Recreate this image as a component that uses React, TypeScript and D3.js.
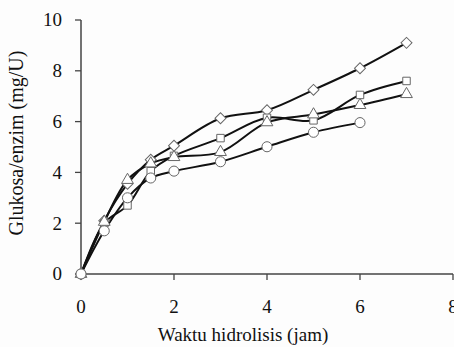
import * as d3 from "d3";

// hydrolysis time (jam)
const hours = [0, 0.5, 1, 1.5, 2, 3, 4, 5, 6, 7];

// glukosa/enzim (mg/U) per series
const diamondValues = [0, 2.1, 3.55, 4.5, 5.05, 6.13, 6.45, 7.25, 8.1, 9.1];
const squareValues = [0, 2.0, 2.7, 4.05, 4.65, 5.35, 6.15, 6.05, 7.05, 7.6];
const triangleValues = [0, 2.05, 3.7, 4.35, 4.6, 4.8, 5.97, 6.28, 6.65, 7.08];
const circleValues = [0, 1.7, 3.0, 3.78, 4.05, 4.42, 5.01, 5.58, 5.96];

const xTicks = [0, 2, 4, 6, 8];
const yTicks = [0, 2, 4, 6, 8, 10];

const xTitle = "Waktu hidrolisis (jam)";
const yTitle = "Glukosa/enzim (mg/U)";

const W = 454;
const H = 347;
const left = 81;
const right = 453;
const top = 20;
const bottom = 274;
const font = "Liberation Serif";
const axisColor = "#444";

const x = d3.scaleLinear().domain([0, 8]).range([left, right]);
const y = d3.scaleLinear().domain([0, 10]).range([bottom, top]);

const series = [
	{shape: "diamond", values: diamondValues},
	{shape: "square", values: squareValues},
	{shape: "triangle", values: triangleValues},
	{shape: "circle", values: circleValues},
];

const line = d3
	.line<[number, number]>()
	.x((d) => x(d[0]))
	.y((d) => y(d[1]))
	.curve(d3.curveCatmullRom.alpha(0.5));

const symbols: Record<string, d3.SymbolType> = {
	diamond: d3.symbolSquare,
	square: d3.symbolSquare,
	triangle: d3.symbolTriangle,
	circle: d3.symbolCircle,
};
const sizes: Record<string, number> = {diamond: 60, square: 56, triangle: 60, circle: 80};

const App = () => {
	const tickStyle = {fontFamily: font, fontSize: 19, fill: "#111"};
	return (
		<svg width={W} height={H} style={{position: "absolute", left: 0, top: 0}}>
			<rect width={W} height={H} fill="#fdfdfd" />

			{/* y axis */}
			<line x1={left} x2={left} y1={y(10)} y2={y(0)} stroke={axisColor} strokeWidth={1.5} />
			{yTicks.map((t) => (
				<g key={"y" + t}>
					<line x1={left - 6} x2={left} y1={y(t)} y2={y(t)} stroke={axisColor} strokeWidth={1.3} />
					<text x={left - 19} y={y(t)} dy="0.34em" textAnchor="end" style={tickStyle}>
						{t}
					</text>
				</g>
			))}

			{/* x axis */}
			<line x1={x(0)} x2={x(8)} y1={bottom} y2={bottom} stroke={axisColor} strokeWidth={1.5} />
			{xTicks.map((t) => (
				<g key={"x" + t}>
					<line x1={x(t)} x2={x(t)} y1={bottom} y2={bottom + 6} stroke={axisColor} strokeWidth={1.3} />
					<text x={x(t)} y={313} textAnchor="middle" style={tickStyle}>
						{t}
					</text>
				</g>
			))}

			{series.map((s) => (
				<path
					key={"l" + s.shape}
					d={line(s.values.map((v, i) => [hours[i], v] as [number, number])) || ""}
					fill="none"
					stroke="#111"
					strokeWidth={2}
				/>
			))}

			{series.map((s) => (
				<g key={"m" + s.shape}>
					{s.values.map((v, i) => (
						<path
							key={i}
							d={d3.symbol().type(symbols[s.shape]).size(sizes[s.shape])() || ""}
							transform={
								`translate(${x(hours[i])},${y(v)})` + (s.shape === "diamond" ? " rotate(45)" : "")
							}
							fill="#fff"
							stroke="#666"
							strokeWidth={1}
						/>
					))}
				</g>
			))}

			<text x={243} y={341} textAnchor="middle" style={{fontFamily: font, fontSize: 19, fill: "#111"}}>
				{xTitle}
			</text>
			<text
				transform="translate(23,143) rotate(-90)"
				textAnchor="middle"
				style={{fontFamily: font, fontSize: 20, fill: "#111"}}
			>
				{yTitle}
			</text>
		</svg>
	);
};

export default App;
